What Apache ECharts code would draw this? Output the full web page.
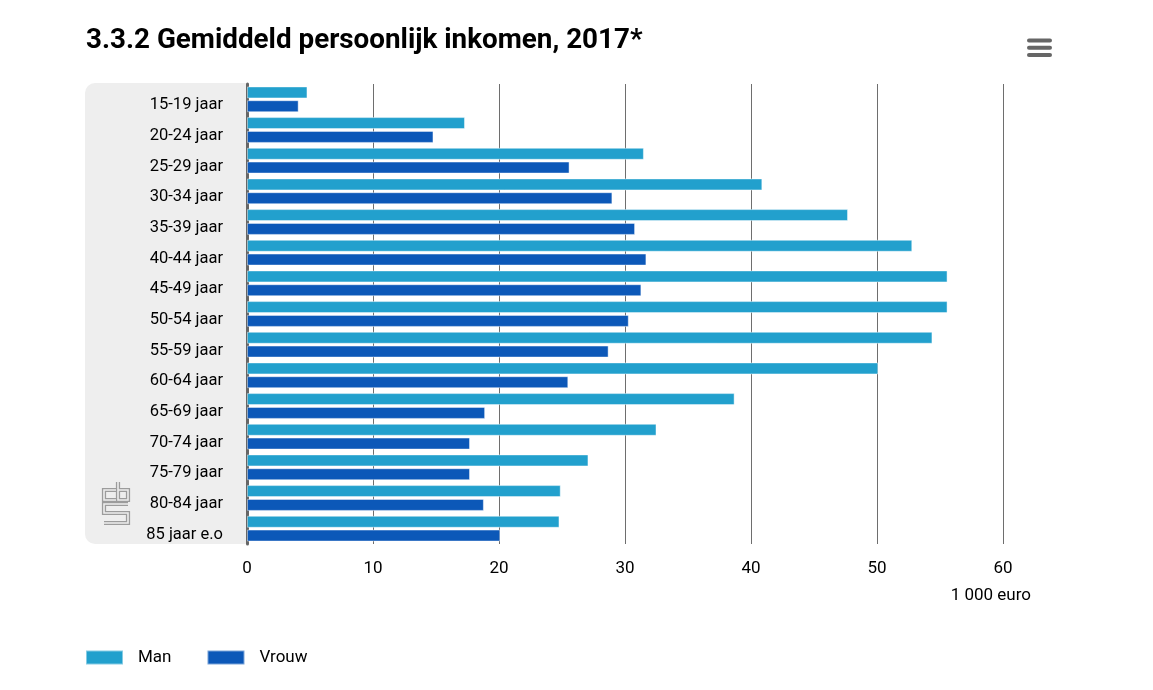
<!DOCTYPE html>
<html>
<head>
<meta charset="utf-8">
<script src="https://cdn.jsdelivr.net/npm/echarts@6/dist/echarts.min.js"></script>
<style>
html,body{margin:0;padding:0;background:#fff;}
#chart{width:1153px;height:690px;}
</style>
</head>
<body>
<div id="chart"></div>
<script>
const titleText = '3.3.2 Gemiddeld persoonlijk inkomen, 2017*';
const unitText = '1 000 euro';
const categories = ['15-19 jaar','20-24 jaar','25-29 jaar','30-34 jaar','35-39 jaar','40-44 jaar','45-49 jaar','50-54 jaar','55-59 jaar','60-64 jaar','65-69 jaar','70-74 jaar','75-79 jaar','80-84 jaar','85 jaar e.o'];
const seriesNames = ['Man','Vrouw'];
const man = [4.8, 17.3, 31.5, 40.9, 47.7, 52.8, 55.6, 55.6, 54.4, 50.1, 38.7, 32.5, 27.1, 24.9, 24.8];
const vrouw = [4.1, 14.8, 25.6, 29.0, 30.8, 31.7, 31.3, 30.3, 28.7, 25.5, 18.9, 17.7, 17.7, 18.8, 20.1];
const xTicks = [0, 10, 20, 30, 40, 50, 60];

const FONT = 'Roboto, "Noto Sans", sans-serif';
const chart = echarts.init(document.getElementById('chart'));

const logoStroke = (pts) => [
  {type:'polyline', z:-9, shape:{points:pts}, style:{stroke:'#9c9c9c', lineWidth:4.2, fill:null, lineJoin:'miter'}},
  {type:'polyline', z:-8, shape:{points:pts}, style:{stroke:'#eeeeee', lineWidth:1.6, fill:null, lineJoin:'miter'}}
];

chart.setOption({
  animation: false,
  textStyle: {fontFamily: FONT},
  title: {
    text: titleText, left: 81, top: 22,
    textStyle: {fontFamily: FONT, fontSize: 27.8, fontWeight: 'bold', color: '#000'}
  },
  legend: {
    left: 85, top: 649, padding: 0,
    itemWidth: 37, itemHeight: 14, itemGap: 35,
    icon: 'rect',
    textStyle: {fontSize: 17, color: '#000', padding: [0, 0, 0, 10]},
    data: seriesNames
  },
  grid: {left: 247, right: 150, top: 84, bottom: 146, containLabel: false},
  xAxis: {
    type: 'value', min: 0, max: 60, interval: 10,
    axisLine: {show: false}, axisTick: {show: false},
    axisLabel: {fontSize: 17, color: '#000', margin: 16,
      formatter: v => xTicks.includes(v) ? String(v) : ''},
    splitLine: {show: true, lineStyle: {color: '#6e6e6e', width: 1}}
  },
  yAxis: {
    type: 'category', data: categories, inverse: true,
    axisLine: {show: true, lineStyle: {color: '#666', width: 3}},
    axisTick: {show: false},
    axisLabel: {fontSize: 16.5, color: '#000', margin: 24, verticalAlign: 'top', lineHeight: 12}
  },
  series: [
    {name: seriesNames[0], type: 'bar', data: man, barWidth: 12, barGap: '15%',
      itemStyle: {color: '#22a0cd', borderColor: 'rgba(255,255,255,0.45)', borderWidth: 1}},
    {name: seriesNames[1], type: 'bar', data: vrouw, barWidth: 12,
      itemStyle: {color: '#0c58b8', borderColor: 'rgba(255,255,255,0.45)', borderWidth: 1}}
  ],
  graphic: [
    {type:'rect', z:-10, shape:{x:85, y:83, width:161, height:461, r:[10,0,0,10]}, style:{fill:'#eeeeee'}},
    ...logoStroke([[116,490],[104,490],[104,500],[116,500]]),
    ...logoStroke([[118,482],[118,500],[128,500],[128,490],[118,490]]),
    ...logoStroke([[128,504],[104,504],[104,513],[128,513],[128,523],[104,523]]),
    {type:'text', z:10, style:{text: unitText, x:1031, y:596, align:'right', verticalAlign:'middle', fontSize:17, fontFamily:FONT, fill:'#000'}},
    {type:'rect', shape:{x:1027, y:38.5, width:25, height:4, r:2}, style:{fill:'#666'}},
    {type:'rect', shape:{x:1027, y:45.8, width:25, height:4, r:2}, style:{fill:'#666'}},
    {type:'rect', shape:{x:1027, y:53.1, width:25, height:4, r:2}, style:{fill:'#666'}}
  ]
});
</script>
</body>
</html>
